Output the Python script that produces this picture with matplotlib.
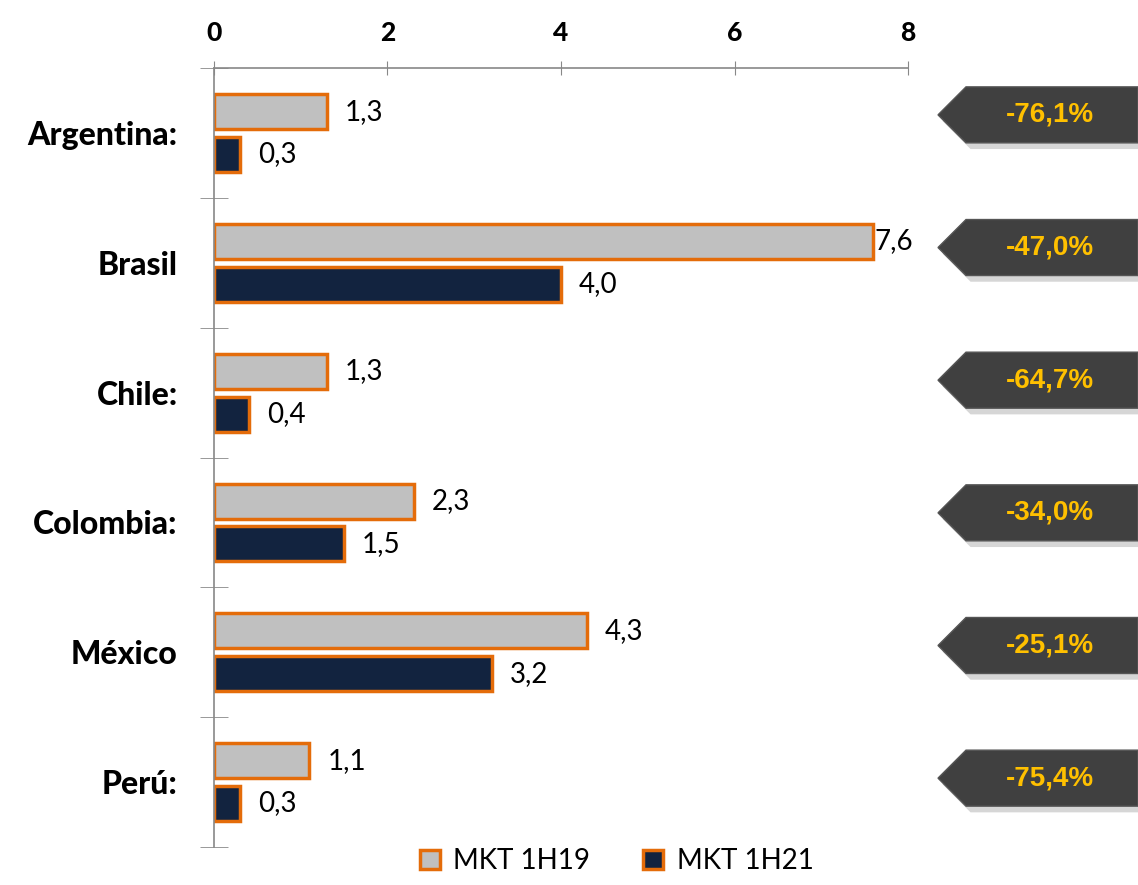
import numpy as np
import matplotlib.pyplot as plt
from matplotlib.patches import Polygon, Patch

paises = ["Argentina:", "Brasil", "Chile:", "Colombia:", "México", "Perú:"]
mkt_1h19 = [1.3, 7.6, 1.3, 2.3, 4.3, 1.1]
mkt_1h21 = [0.3, 4.0, 0.4, 1.5, 3.2, 0.3]
variacion = ["-76,1%", "-47,0%", "-64,7%", "-34,0%", "-25,1%", "-75,4%"]
ticks_x = [0, 2, 4, 6, 8]

plt.rcParams['font.family'] = ['Lato', 'DejaVu Sans']

fig = plt.figure(figsize=(11.38, 8.85), dpi=100)
ax = fig.add_axes([0.188, 0.043, 0.610, 0.880])

naranja = "#E46C0A"
gris = "#C0C0C0"
azul = "#12233F"
alto = 0.27
y = np.arange(len(paises))

ax.barh(y - 0.165, mkt_1h19, height=alto, color=gris, edgecolor=naranja, linewidth=2.5)
ax.barh(y + 0.165, mkt_1h21, height=alto, color=azul, edgecolor=naranja, linewidth=2.5)

for i in range(len(paises)):
    ax.annotate(f"{mkt_1h19[i]:.1f}".replace('.', ','), (mkt_1h19[i], y[i] - 0.165),
                xytext=(13 if mkt_1h19[i] < 7 else 1, 0), textcoords="offset points",
                va="center", ha="left", fontsize=20)
    ax.annotate(f"{mkt_1h21[i]:.1f}".replace('.', ','), (mkt_1h21[i], y[i] + 0.165),
                xytext=(13, 0), textcoords="offset points",
                va="center", ha="left", fontsize=20)

ax.set_xlim(0, 8)
ax.set_ylim(5.5, -0.5)
ax.xaxis.tick_top()
ax.set_xticks(ticks_x)
ax.set_xticklabels([str(t) for t in ticks_x], fontsize=19, fontweight="black")
ax.tick_params(axis="x", direction="inout", length=10, color="#888888", pad=12)

ax.set_yticks(y)
ax.set_yticklabels(paises, fontsize=23, fontweight="black")
ax.tick_params(axis="y", which="major", length=0, pad=26)
ax.set_yticks(np.arange(-0.5, 6, 1), minor=True)
ax.tick_params(axis="y", which="minor", direction="inout", length=20, color="#888888")

for lado in ["right", "bottom"]:
    ax.spines[lado].set_visible(False)
for lado in ["top", "left"]:
    ax.spines[lado].set_color("#888888")
    ax.spines[lado].set_linewidth(1.2)

# flechas con la variación
for i, txt in enumerate(variacion):
    yc = ax.transData.transform((0, y[i] - 0.14 + 0.022 * i))[1] / fig.bbox.height
    h = 28 / 885
    x0, x1, x2 = 938 / 1138, 966 / 1138, 1.0
    d = 0.007
    sombra = Polygon([[x0 + 0.004, yc - d], [x1 + 0.004, yc + h - d],
                      [x2, yc + h - d], [x2, yc - h - d],
                      [x1 + 0.004, yc - h - d]],
                     closed=True, transform=fig.transFigure, facecolor="#BBBBBB",
                     edgecolor="none", alpha=0.6)
    fig.patches.append(sombra)
    flecha = Polygon([[x0, yc], [x1, yc + h], [x2, yc + h], [x2, yc - h], [x1, yc - h]],
                     closed=True, transform=fig.transFigure, facecolor="#404040",
                     edgecolor="#555555", linewidth=1)
    fig.patches.append(flecha)
    fig.text(1050 / 1138, yc, txt, ha="center", va="center", fontsize=20,
             fontweight="bold", color="#FFC000", family="Liberation Sans")

handles = [Patch(facecolor=gris, edgecolor=naranja, linewidth=2.5, label="MKT 1H19"),
           Patch(facecolor=azul, edgecolor=naranja, linewidth=2.5, label="MKT 1H21")]
fig.legend(handles=handles, loc="lower center", bbox_to_anchor=(0.542, -0.016), ncol=2,
           frameon=False, fontsize=20, handlelength=0.7, handleheight=0.7,
           columnspacing=1.9, handletextpad=0.5)

fig.savefig("out.png", dpi=100)
